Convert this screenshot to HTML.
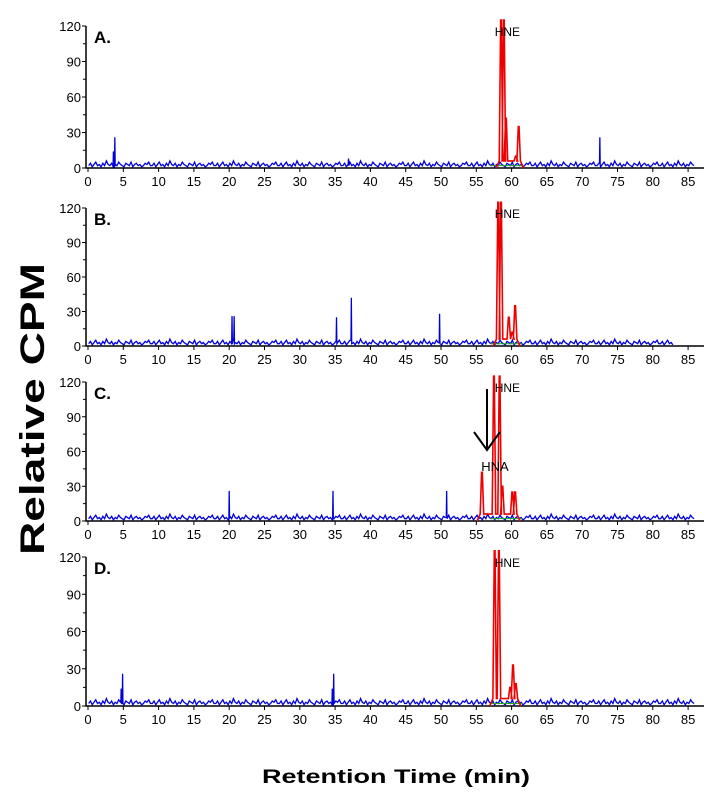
<!DOCTYPE html>
<html><head><meta charset="utf-8"><style>
body{margin:0;background:#fff}
svg text{font-family:"Liberation Sans",Arial,sans-serif}
</style></head><body>
<svg id="chart" width="724" height="806" viewBox="0 0 724 806" xmlns="http://www.w3.org/2000/svg">
<text transform="translate(44,409) rotate(-90)" text-anchor="middle" font-size="34" font-weight="bold" textLength="292" lengthAdjust="spacingAndGlyphs">Relative CPM</text>
<text x="262" y="783" font-size="19" font-weight="bold" textLength="268" lengthAdjust="spacingAndGlyphs">Retention Time (min)</text>
</svg>
<script>
const xTicks=[0,5,10,15,20,25,30,35,40,45,50,55,60,65,70,75,80,85];
const yTicks=[0,30,60,90,120];
const panelNames=["A.","B.","C.","D."];
const noise=[2,4,1,3,5,2,3,1,4,2,6,3,2,4,1,3,2,5,3,2,1,4,3,2,5,1,3,4,2,3,1,2,4,3,5,2];
const bluePeaksA=[[3.8,26],[3.6,14],[36.9,8],[72.5,26]];
const bluePeaksB=[[20.4,26],[20.7,26],[35.2,25],[37.3,42],[49.8,28]];
const bluePeaksC=[[20,26],[34.7,26],[50.8,26]];
const bluePeaksD=[[4.9,26],[4.7,14],[34.8,26],[34.6,14]];
const redPeaksA=[[58.5,125],[58.9,125],[59.2,42],[60.6,10],[61,35]];
const redPeaksB=[[58.1,125],[58.5,125],[59.6,25],[60.5,35],[60.1,12]];
const redPeaksC=[[55.8,42],[57.5,125],[58.3,125],[58.7,30],[60.1,25],[60.5,25]];
const redPeaksD=[[57.6,125],[58.2,125],[60.2,33],[59.8,15],[60.6,18]];
const bluePeaks=[bluePeaksA,bluePeaksB,bluePeaksC,bluePeaksD];
const redPeaks=[redPeaksA,redPeaksB,redPeaksC,redPeaksD];
const blueEnd=[86,83,86,86];
const panels=[{t:26,b:168},{t:208,b:346},{t:382,b:521},{t:557,b:706}];
const NS="http://www.w3.org/2000/svg",svg=document.getElementById("chart");
function el(tag,attrs){const e=document.createElementNS(NS,tag);for(const k in attrs)e.setAttribute(k,attrs[k]);svg.appendChild(e);return e;}
const X=t=>88+t*7.06;
panels.forEach((p,i)=>{
  const Y=v=>p.b-Math.min(v,125)/120*(p.b-p.t);
  const ax=el("path",{d:`M86,${p.t} V${p.b} H704`,stroke:"#000",fill:"none","stroke-width":1.5});
  
  
  yTicks.forEach(v=>{
    el("line",{x1:82,x2:86,y1:Y(v),y2:Y(v),stroke:"#000"});
    const tx=el("text",{x:81,y:Y(v)+5,"text-anchor":"end","font-size":13});tx.textContent=v;
    
    
    if(v<120)el("line",{x1:83,x2:86,y1:Y(v+15),y2:Y(v+15),stroke:"#000"});
  });
  xTicks.forEach(v=>{
    el("line",{x1:X(v),x2:X(v),y1:p.b,y2:p.b+4,stroke:"#000"});
    const tx=el("text",{x:X(v),y:p.b+18,"text-anchor":"middle","font-size":13});tx.textContent=v;
    
    
  });
  const lab=el("text",{x:94,y:p.t+17,"font-size":17,"font-weight":"bold"});lab.textContent=panelNames[i];
  
  
  let pts=[];let k=0;
  for(let t=0.1;t<=blueEnd[i];t+=0.25){
    let v=noise[k%noise.length];k++;
    pts.push([t,v]);
    bluePeaks[i].forEach(pk=>{if(pk[0]>=t&&pk[0]<t+0.25){pts.push([pk[0]-0.05,v]);pts.push([pk[0],pk[1]]);pts.push([pk[0]+0.05,2]);}});
  }
  const bl=el("polyline",{points:pts.map(q=>X(q[0])+","+Y(q[1])).join(" "),fill:"none",stroke:"#0000dd","stroke-width":1.3});
  
  
  el("line",{x1:X(57),x2:X(61.5),y1:Y(2),y2:Y(2),stroke:"#2a2","stroke-width":1});
  const rp=redPeaks[i].slice().sort((a,b)=>a[0]-b[0]);
  let r=[[rp[0][0]-0.7,0]];
  rp.forEach(pk=>{r.push([pk[0]-0.25,6]);r.push([pk[0]-0.05,pk[1]]);r.push([pk[0]+0.05,pk[1]]);r.push([pk[0]+0.25,6]);});
  r.push([rp[rp.length-1][0]+0.7,0]);
  const rl=el("polyline",{points:r.map(q=>X(q[0])+","+Y(q[1])).join(" "),fill:"none",stroke:"#ee0000","stroke-width":1.6});
  
  
  const h=el("text",{x:X(59.4),y:p.t+10,"text-anchor":"middle","font-size":12});h.textContent="HNE";
  
  
});
const a=el("path",{d:`M487,389 V450 M474,432 L487,450 L500,432`,stroke:"#000",fill:"none","stroke-width":2});


const hna=el("text",{x:495,y:471,"text-anchor":"middle","font-size":13});hna.textContent="HNA";


</script>
</body></html>
